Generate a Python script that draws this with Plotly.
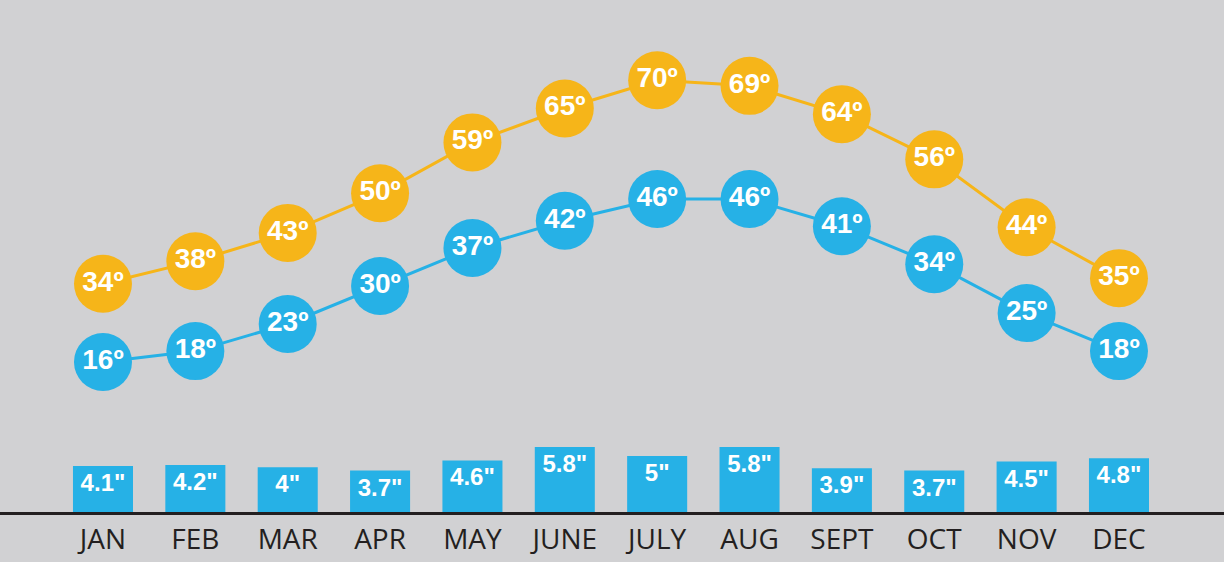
import plotly.graph_objects as go

months = ["JAN", "FEB", "MAR", "APR", "MAY", "JUNE", "JULY", "AUG", "SEPT", "OCT", "NOV", "DEC"]
high_temps = [34, 38, 43, 50, 59, 65, 70, 69, 64, 56, 44, 35]
low_temps = [16, 18, 23, 30, 37, 42, 46, 46, 41, 34, 25, 18]
precip = [4.1, 4.2, 4.0, 3.7, 4.6, 5.8, 5.0, 5.8, 3.9, 3.7, 4.5, 4.8]
precip_labels = ['4.1"', '4.2"', '4"', '3.7"', '4.6"', '5.8"', '5"', '5.8"', '3.9"', '3.7"', '4.5"', '4.8"']

BG = "#d1d1d3"
ORANGE = "#f6b519"
BLUE = "#26b1e6"
DARK = "#231f20"

x = list(range(len(months)))

fig = go.Figure()

fig.add_trace(go.Bar(
    x=x, y=precip, width=0.65,
    marker=dict(color=BLUE, line=dict(width=0)),
    text=precip_labels, textposition="inside", insidetextanchor="end",
    textangle=0,
    textfont=dict(family="Liberation Sans", size=24, color="white", weight="bold"),
    cliponaxis=False, hoverinfo="skip", yaxis="y",
))

fig.add_trace(go.Scatter(
    x=x, y=high_temps, mode="lines+markers+text",
    line=dict(color=ORANGE, width=3),
    marker=dict(size=58, color=ORANGE, line=dict(width=0)),
    text=[f"{v}º" for v in high_temps], textposition="middle center",
    textfont=dict(family="Liberation Sans", size=28, color="white", weight="bold"),
    cliponaxis=False, hoverinfo="skip", yaxis="y2",
))

fig.add_trace(go.Scatter(
    x=x, y=low_temps, mode="lines+markers+text",
    line=dict(color=BLUE, width=3),
    marker=dict(size=58, color=BLUE, line=dict(width=0)),
    text=[f"{v}º" for v in low_temps], textposition="middle center",
    textfont=dict(family="Liberation Sans", size=28, color="white", weight="bold"),
    cliponaxis=False, hoverinfo="skip", yaxis="y3",
))

fig.update_layout(
    width=1224, height=562,
    margin=dict(l=0, r=0, t=0, b=50),
    paper_bgcolor=BG, plot_bgcolor=BG,
    showlegend=False,
    xaxis=dict(
        range=[-1.115, 12.137], tickmode="array", tickvals=x, ticktext=months,
        showgrid=False, zeroline=False, showline=True, linecolor=DARK, linewidth=3,
        ticks="", tickfont=dict(family="Open Sans", size=28, color=DARK),
        ticklabelstandoff=0,
    ),
    yaxis=dict(range=[0, 45.7], visible=False, showgrid=False, zeroline=False),
    yaxis2=dict(range=[-6.35, 84.18], overlaying="y", visible=False, showgrid=False, zeroline=False),
    yaxis3=dict(range=[-11.63, 82.66], overlaying="y", visible=False, showgrid=False, zeroline=False),
)

fig.write_html(
    "out.html",
    config={"displayModeBar": False},
    post_script="document.body.style.margin='0';document.body.style.padding='0';"
                "document.body.style.overflow='hidden';document.body.style.background='#d1d1d3';",
)
